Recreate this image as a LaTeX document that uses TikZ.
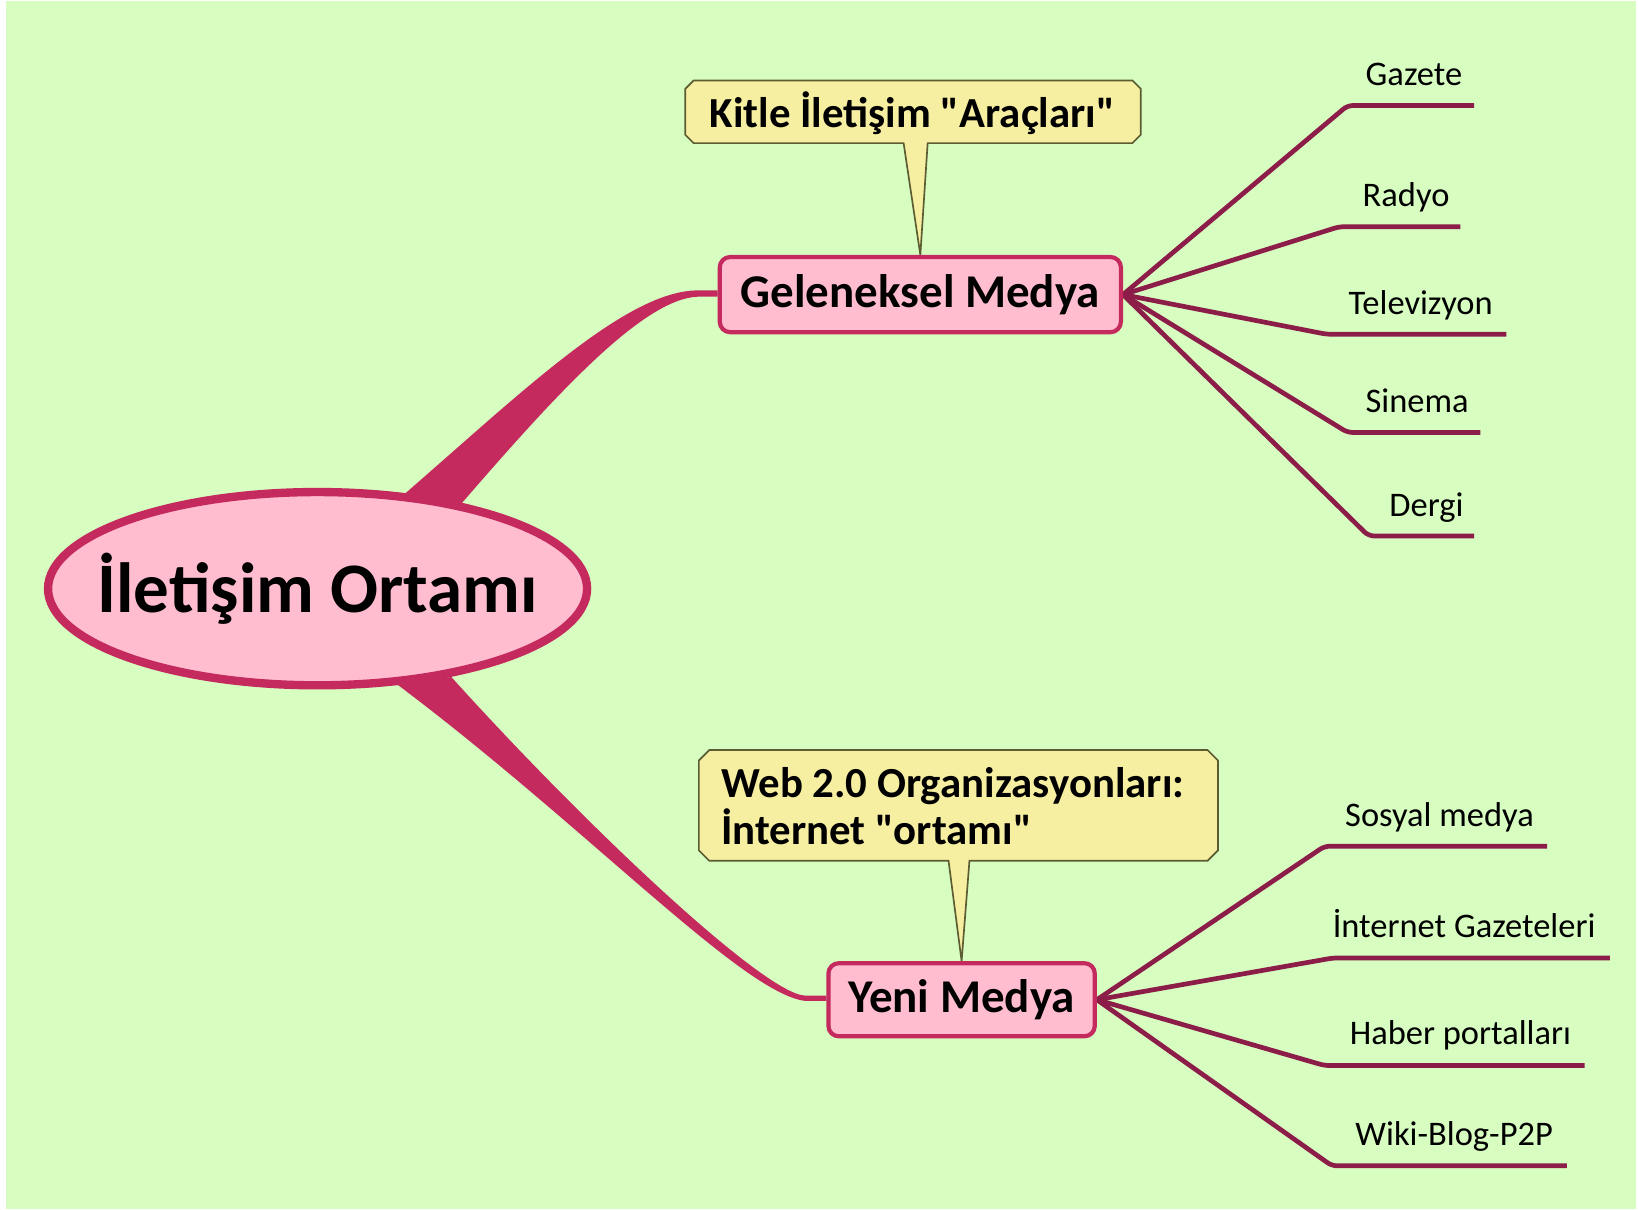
\documentclass[tikz,border=0pt]{standalone}
\usepackage{fontspec}
\setmainfont{Carlito}[Ligatures=TeXOff]
\usetikzlibrary{shapes.geometric}
\newdimen\px \px=0.5pt
\definecolor{bggreen}{HTML}{D7FDC1}
\definecolor{pinkfill}{HTML}{FFBDCF}
\definecolor{crimson}{HTML}{C42A5E}
\definecolor{maroon}{HTML}{8C1D48}
\definecolor{callfill}{HTML}{F6EEA0}
\definecolor{calldraw}{HTML}{5C5C32}
\pgfdeclarelayer{back}
\pgfsetlayers{back,main}
\begin{document}
\begin{tikzpicture}[x=0.5pt,y=-0.5pt,
  mainnode/.style={ellipse, draw=crimson, fill=pinkfill, line width=8\px,
    minimum width=516\px, minimum height=185\px, inner xsep=-30pt, inner ysep=-20pt,
    font=\fontsize{34pt}{40pt}\selectfont\bfseries},
  medbox/.style={rectangle, rounded corners=10\px, draw=crimson, fill=pinkfill,
    line width=4\px, inner sep=0pt, font=\fontsize{22.5pt}{27pt}\selectfont\bfseries},
  notebox/.style={fill=callfill, draw=calldraw, line width=1.6\px, line join=miter},
  calltext/.style={font=\fontsize{20.5pt}{24pt}\selectfont\bfseries, inner sep=0pt},
  branchfill/.style={fill=crimson},
  twig/.style={draw=maroon, line width=4.5\px, rounded corners=5\px},
  leaf/.style={font=\fontsize{16.5pt}{20pt}\selectfont, inner sep=0pt, anchor=base}
]
\useasboundingbox (0,0) rectangle (1568,1158);

% main nodes
\node[mainnode] (root) at (304,563.5) {İletişim Ortamı};
\node[medbox, minimum width=384\px, minimum height=72\px] (gm) at (881,282) {Geleneksel Medya};
\node[medbox, minimum width=255\px, minimum height=70\px] (yn) at (920.5,957) {Yeni Medya};

% callout texts
\node[calltext, anchor=base] (k1) at (873.5,122.5) {Kitle İletişim "Araçları"};
\node[calltext, anchor=base west] (w1) at (690,763) {Web 2.0 Organizasyonları:};
\node[calltext, anchor=base west] (w2) at (690,808) {İnternet "ortamı"};

% leaf labels
\node[leaf] (gz) at (1353.5,82) {Gazete};
\node[leaf] (rd) at (1346,198) {Radyo};
\node[leaf] (tv) at (1360,301) {Televizyon};
\node[leaf] (sn) at (1356.5,395) {Sinema};
\node[leaf] (dg) at (1365.5,494) {Dergi};
\node[leaf] (sm) at (1378,791) {Sosyal medya};
\node[leaf] (ig) at (1401.5,897) {İnternet Gazeteleri};
\node[leaf] (hp) at (1398,1000) {Haber portalları};
\node[leaf] (wb) at (1392,1097) {Wiki-Blog-P2P};

% twig coordinates
\coordinate (gzA) at (1290,101);  \coordinate (gzB) at (1411,101);
\coordinate (rdA) at (1282,217);  \coordinate (rdB) at (1398,217);
\coordinate (tvA) at (1270,320);  \coordinate (tvB) at (1442,320);
\coordinate (snA) at (1290,414);  \coordinate (snB) at (1417,414);
\coordinate (dgA) at (1310,513);  \coordinate (dgB) at (1411,513);
\coordinate (smA) at (1268,810);  \coordinate (smB) at (1481,810);
\coordinate (igA) at (1276,917);  \coordinate (igB) at (1541,917);
\coordinate (hpA) at (1268,1020); \coordinate (hpB) at (1517,1020);
\coordinate (wbA) at (1275,1116); \coordinate (wbB) at (1500,1116);

\begin{pgfonlayer}{back}
  \fill[white] (0,0) rectangle (1568,1158);
  \fill[bggreen] (6,1) rectangle (1566,1157);

  % tapered main branches
  \fill[branchfill] (386,474) .. controls (500,375) and (600,278) .. (668,278)
     -- ([yshift=2pt]gm.west) -- ([yshift=-1pt]gm.west) -- (668,284)
     .. controls (615,286) and (530,380) .. (440,484) -- cycle;
  \fill[branchfill] (380,655) .. controls (560,790) and (710,950) .. (770,958)
     -- ([yshift=-0.5pt]yn.west) -- ([yshift=2pt]yn.west) -- (770,953)
     .. controls (730,950) and (560,790) .. (432,648) -- cycle;

  % callouts
  \draw[notebox] (664,77) -- (1084,77) -- (1092,85) -- (1092,129) -- (1084,137)
     -- (888,137) -- (gm.north) -- (865,137) -- (664,137) -- (656,129) -- (656,85) -- cycle;
  \draw[notebox] (679,718) -- (1156,718) -- (1166,728) -- (1166,814) -- (1156,824)
     -- (928,824) -- (yn.north) -- (908,824) -- (679,824) -- (669,814) -- (669,728) -- cycle;

  % twigs
  \draw[twig] (gm.east) -- (gzA) -- (gzB);
  \draw[twig] (gm.east) -- (rdA) -- (rdB);
  \draw[twig] (gm.east) -- (tvA) -- (tvB);
  \draw[twig] (gm.east) -- (snA) -- (snB);
  \draw[twig] (gm.east) -- (dgA) -- (dgB);
  \draw[twig] (yn.east) -- (smA) -- (smB);
  \draw[twig] (yn.east) -- (igA) -- (igB);
  \draw[twig] (yn.east) -- (hpA) -- (hpB);
  \draw[twig] (yn.east) -- (wbA) -- (wbB);
\end{pgfonlayer}
\end{tikzpicture}
\end{document}
